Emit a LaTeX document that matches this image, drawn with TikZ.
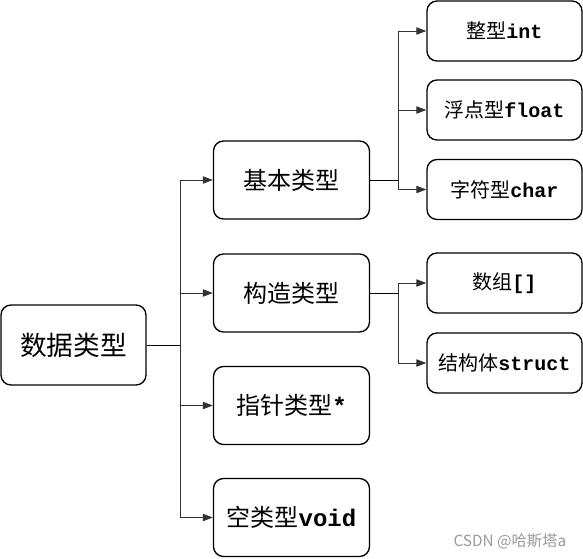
\documentclass[tikz,border=0pt]{standalone}
\usepackage{fontspec}
\setmainfont{Liberation Serif}
\newfontfamily\cjk{Noto Sans CJK SC}
\newfontfamily\mono{Liberation Mono}
\newfontfamily\wm{Noto Sans CJK SC}
\usetikzlibrary{arrows.meta}
\begin{document}
\begin{tikzpicture}[x=0.75pt,y=-0.75pt,
  box/.style={draw=black,line width=1pt,rounded corners=7.5pt,inner sep=0pt,align=center},
  rootbox/.style={box,minimum width=145*0.75pt,minimum height=80*0.75pt,font=\cjk\fontsize{20pt}{24pt}\selectfont},
  midbox/.style={box,minimum width=156*0.75pt,minimum height=78*0.75pt,font=\cjk\fontsize{18pt}{21pt}\selectfont},
  leafbox/.style={box,minimum width=155*0.75pt,minimum height=60*0.75pt,font=\cjk\fontsize{15pt}{18pt}\selectfont},
  link/.style={draw=black!80,line width=0.75pt},
  arrow/.style={link,-{Triangle[length=7.5pt,width=5.5pt]}}
]
\useasboundingbox (0,0) rectangle (583,558);
% root
\node[rootbox] (root) at (73.5,345) {数据类型};
% level 2
\node[midbox] (b1) at (291.5,180) {基本类型};
\node[midbox] (b2) at (291.5,293) {构造类型};
\node[midbox] (b3) at (291.5,405.5) {指针类型{\mono\bfseries *}};
\node[midbox] (b4) at (291.5,517.5) {空类型{\mono\bfseries void}};
% level 3
\node[leafbox] (c1) at (504.5,31) {整型{\mono\bfseries int}};
\node[leafbox] (c2) at (504.5,110) {浮点型{\mono\bfseries float}};
\node[leafbox] (c3) at (504.5,189.5) {字符型{\mono\bfseries char}};
\node[leafbox] (c4) at (504.5,283) {数组{\mono\bfseries []}};
\node[leafbox] (c5) at (504.5,363) {结构体{\mono\bfseries struct}};
% junctions
\coordinate (t0) at (180,345);
\coordinate (t1) at (398,180);
\coordinate (t2) at (398,293);
\draw[link,draw=black] (root) -- (t0);
\draw[arrow] (t0) |- (b1);
\draw[arrow] (t0) |- (b2);
\draw[arrow] (t0) |- (b3);
\draw[arrow] (t0) |- (b4);
\draw[link,draw=black] (b1) -- (t1);
\draw[arrow] (t1) |- (c1);
\draw[arrow] (t1) |- (c2);
\draw[arrow] (t1) |- (c3);
\draw[link,draw=black] (b2) -- (t2);
\draw[arrow] (t2) |- (c4);
\draw[arrow] (t2) |- (c5);
% watermark
\node[text=black!40,font=\wm\fontsize{11.5pt}{13pt}\selectfont,anchor=east] (wm) at (571,541) {CSDN @哈斯塔a};
\end{tikzpicture}
\end{document}
